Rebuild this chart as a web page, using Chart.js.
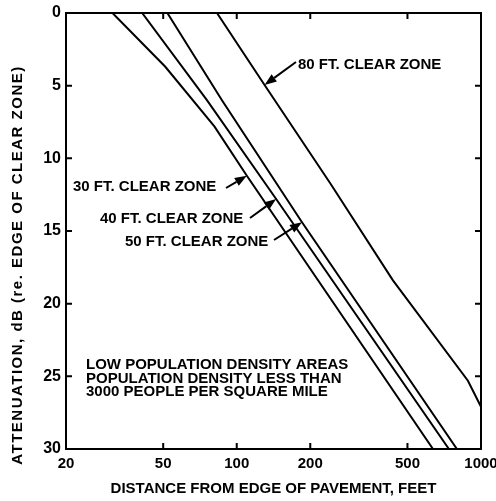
<!DOCTYPE html>
<html>
<head>
<meta charset="utf-8">
<script src="https://cdn.jsdelivr.net/npm/chart.js@4.4.1/dist/chart.umd.min.js"></script>
<style>
  html, body { margin: 0; padding: 0; background: #fff; }
  #wrap { width: 496px; height: 501px; }
</style>
</head>
<body>
<div id="wrap"><canvas id="attenChart" width="496" height="501"></canvas></div>
<script>
const xTicks = [20, 50, 100, 200, 500, 1000];
const yTicks = [0, 5, 10, 15, 20, 25, 30];

// distance from pavement (ft) and attenuation (dB) for each clear zone width
const dist30 = [31, 51, 81, 110, 636];
const atten30 = [0, 3.7, 7.8, 11.2, 30];
const dist40 = [41, 75.5, 145, 739];
const atten40 = [0, 6.0, 12.8, 30];
const dist50 = [52, 87, 185, 797];
const atten50 = [0, 6.0, 14.4, 30];
const dist80 = [83, 130, 241, 436, 884, 1000];
const atten80 = [0, 4.95, 11.7, 18.4, 25.3, 27.1];

const FONT = '"Liberation Sans", Arial, sans-serif';

const toPoints = (xs, ys) => xs.map((v, i) => ({ x: v, y: ys[i] }));

const lineStyle = {
    showLine: true,
    borderColor: '#000',
    borderWidth: 2,
    pointRadius: 0,
    fill: false,
    tension: 0
};

// label text, arrow tail, and which vertex of which curve the arrow points at
const zoneNotes = [
    { text: '30 FT. CLEAR ZONE', x: 73, y: 187, tail: [226, 188], series: 0, point: 3 },
    { text: '40 FT. CLEAR ZONE', x: 100, y: 219, tail: [250, 218], series: 1, point: 2 },
    { text: '50 FT. CLEAR ZONE', x: 125, y: 242, tail: [274, 240], series: 2, point: 2 },
    { text: '80 FT. CLEAR ZONE', x: 298, y: 65, tail: [296, 62], series: 3, point: 1 }
];

const noteLines = [
    'LOW POPULATION DENSITY AREAS',
    'POPULATION DENSITY LESS THAN',
    '3000 PEOPLE PER SQUARE MILE'
];

function drawArrow(ctx, x0, y0, x1, y1) {
    const ang = Math.atan2(y1 - y0, x1 - x0);
    const len = 12, half = 4.5;
    const bx = x1 - len * Math.cos(ang), by = y1 - len * Math.sin(ang);
    ctx.beginPath();
    ctx.moveTo(x0, y0);
    ctx.lineTo(bx, by);
    ctx.stroke();
    ctx.beginPath();
    ctx.moveTo(x1, y1);
    ctx.lineTo(bx + half * Math.sin(ang), by - half * Math.cos(ang));
    ctx.lineTo(bx - half * Math.sin(ang), by + half * Math.cos(ang));
    ctx.closePath();
    ctx.fill();
}

const frameAndNotes = {
    id: 'frameAndNotes',
    afterDatasetsDraw(chart) {
        const { ctx, chartArea: a, scales: { x, y } } = chart;
        ctx.save();
        ctx.strokeStyle = '#000';
        ctx.fillStyle = '#000';
        ctx.lineWidth = 2;
        ctx.strokeRect(a.left, a.top, a.right - a.left, a.bottom - a.top);

        // tick marks point into the plot on all four sides
        ctx.beginPath();
        xTicks.slice(1, -1).forEach(v => {
            const px = x.getPixelForValue(v);
            ctx.moveTo(px, a.bottom); ctx.lineTo(px, a.bottom - 6);
            ctx.moveTo(px, a.top); ctx.lineTo(px, a.top + 6);
        });
        yTicks.slice(1, -1).forEach(v => {
            const py = y.getPixelForValue(v);
            ctx.moveTo(a.left, py); ctx.lineTo(a.left + 6, py);
            ctx.moveTo(a.right, py); ctx.lineTo(a.right - 6, py);
        });
        ctx.stroke();

        ctx.font = 'bold 15px ' + FONT;
        ctx.textBaseline = 'middle';
        ctx.textAlign = 'left';
        zoneNotes.forEach(n => {
            ctx.fillText(n.text, n.x, n.y);
            const pt = chart.getDatasetMeta(n.series).data[n.point];
            drawArrow(ctx, n.tail[0], n.tail[1], pt.x, pt.y);
        });

        noteLines.forEach((t, i) => ctx.fillText(t, 86, 365 + i * 13.5));

        // vertical axis title
        ctx.translate(18, 265);
        ctx.rotate(-Math.PI / 2);
        ctx.textAlign = 'center';
        ctx.letterSpacing = '1.5px';
        ctx.fillText('ATTENUATION, dB (re. EDGE OF CLEAR ZONE)', 0, 0);
        ctx.restore();
    }
};

const ctx = document.getElementById('attenChart').getContext('2d');
const attenChart = new Chart(ctx, {
    type: 'scatter',
    data: {
        datasets: [
            { label: '30 FT. CLEAR ZONE', data: toPoints(dist30, atten30), ...lineStyle },
            { label: '40 FT. CLEAR ZONE', data: toPoints(dist40, atten40), ...lineStyle },
            { label: '50 FT. CLEAR ZONE', data: toPoints(dist50, atten50), ...lineStyle },
            { label: '80 FT. CLEAR ZONE', data: toPoints(dist80, atten80), ...lineStyle }
        ]
    },
    options: {
        responsive: false,
        animation: false,
        devicePixelRatio: 1,
        layout: { padding: { top: 13, right: 15, left: 0, bottom: 0 } },
        plugins: {
            legend: { display: false },
            tooltip: { enabled: false }
        },
        scales: {
            x: {
                type: 'logarithmic',
                min: 20,
                max: 1000,
                afterBuildTicks: scale => { scale.ticks = xTicks.map(v => ({ value: v })); },
                afterFit: scale => {
                    scale.height = 52;
                    scale.paddingLeft = 0;
                    scale.paddingRight = 0;
                },
                grid: { display: false, drawTicks: false },
                border: { display: false },
                ticks: {
                    color: '#000',
                    font: { family: FONT, size: 15, weight: 'bold' },
                    padding: 6,
                    maxRotation: 0,
                    autoSkip: false,
                    callback: value => String(value)
                },
                title: {
                    display: true,
                    text: 'DISTANCE FROM EDGE OF PAVEMENT, FEET',
                    color: '#000',
                    font: { family: FONT, size: 15, weight: 'bold' },
                    padding: { top: 0, bottom: 3 }
                }
            },
            y: {
                reverse: true,
                min: 0,
                max: 30,
                afterBuildTicks: scale => { scale.ticks = yTicks.map(v => ({ value: v })); },
                afterFit: scale => {
                    scale.width = 66;
                    scale.paddingTop = 0;
                    scale.paddingBottom = 0;
                },
                grid: { display: false, drawTicks: false },
                border: { display: false },
                ticks: {
                    color: '#000',
                    font: { family: FONT, size: 16, weight: 'bold' },
                    padding: 5
                }
            }
        }
    },
    plugins: [frameAndNotes]
});
</script>
</body>
</html>
